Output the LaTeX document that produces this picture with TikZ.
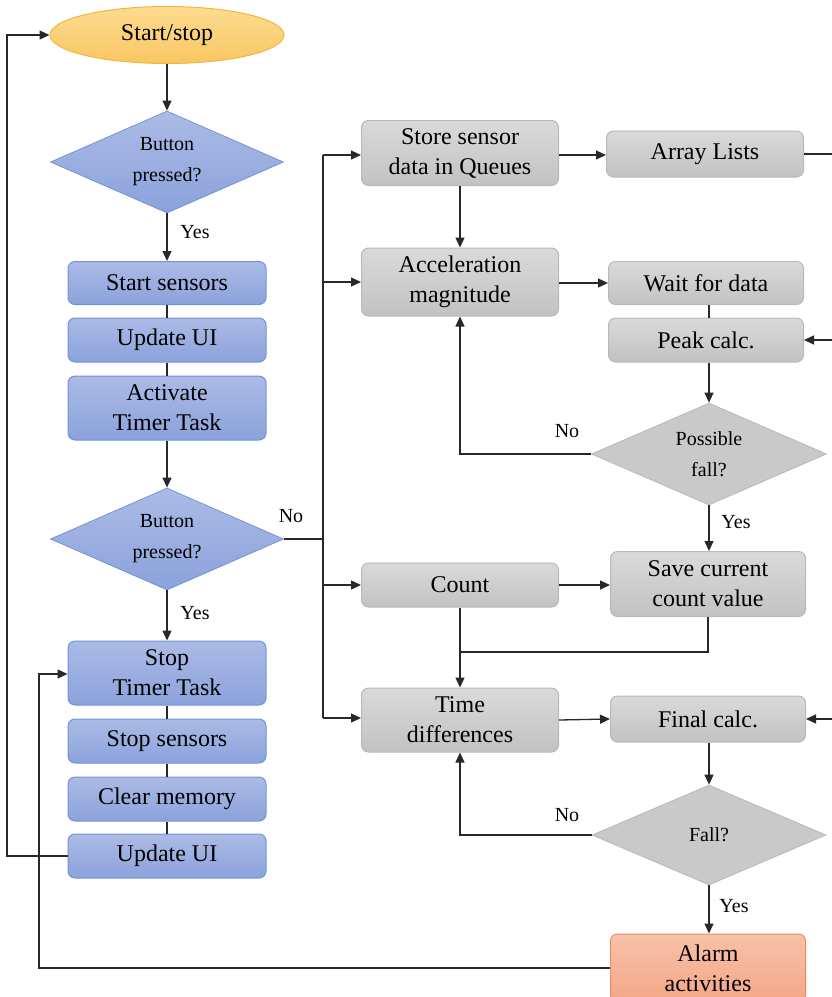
\documentclass[tikz,border=0pt]{standalone}
\usepackage{fontspec}
\setmainfont{Liberation Serif}
\usetikzlibrary{shapes.geometric,arrows.meta}
\definecolor{ln}{RGB}{40,40,40}
\definecolor{bluetop}{RGB}{172,187,230}
\definecolor{bluebot}{RGB}{138,162,219}
\definecolor{blueline}{RGB}{115,147,216}
\definecolor{graytop}{RGB}{218,218,218}
\definecolor{graybot}{RGB}{194,194,194}
\definecolor{grayline}{RGB}{185,185,185}
\definecolor{orgtop}{RGB}{252,220,145}
\definecolor{orgbot}{RGB}{249,198,98}
\definecolor{orgline}{RGB}{242,182,62}
\definecolor{alarmtop}{RGB}{248,194,170}
\definecolor{alarmbot}{RGB}{243,166,135}
\definecolor{alarmline}{RGB}{236,138,94}
\tikzset{
  x=1pt,y=-1pt,
  boxtext/.style={font=\fontsize{24}{30}\selectfont, align=center, inner sep=0pt},
  bluebox/.style={boxtext, rectangle, rounded corners=7pt, draw=blueline, line width=1pt, top color=bluetop, bottom color=bluebot, minimum width=198pt},
  graybox/.style={boxtext, rectangle, rounded corners=7pt, draw=grayline, line width=1pt, top color=graytop, bottom color=graybot, minimum width=197pt},
  bdiam/.style={diamond, aspect=2.3, inner sep=0pt, draw=blueline, line width=0.8pt, top color=bluetop, bottom color=bluebot, minimum width=233pt, minimum height=102pt, font=\fontsize{20}{31}\selectfont, align=center},
  gdiam/.style={diamond, aspect=2.3, inner sep=0pt, draw=grayline, line width=0.8pt, fill={rgb,255:red,201;green,201;blue,201}, minimum width=235pt, minimum height=102pt, font=\fontsize{20}{31}\selectfont, align=center},
  lbl/.style={font=\fontsize{20}{24}\selectfont, inner sep=0pt},
  conn/.style={draw=ln, line width=1.3pt},
  arr/.style={conn, -{Triangle[length=10pt,width=9pt]}},
}
\begin{document}
\begin{tikzpicture}
\useasboundingbox (0,0) rectangle (832,997);
% left column
\node[ellipse, draw=orgline, line width=1pt, top color=orgtop, bottom color=orgbot, minimum width=234pt, minimum height=57pt, inner sep=0pt, font=\fontsize{24}{30}\selectfont] (start) at (167,35) {Start/stop};
\node[bdiam] (bp1) at (167,162) {Button\\pressed?};
\node[bluebox, minimum height=43pt] (ss) at (167,283) {Start sensors};
\node[bluebox, minimum height=44pt] (ui1) at (167,340) {Update UI};
\node[bluebox, minimum height=64pt] (att) at (167,408) {Activate\\Timer Task};
\node[bdiam] (bp2) at (167,539) {Button\\pressed?};
\node[bluebox, minimum height=64pt] (stt) at (167,673) {Stop\\Timer Task};
\node[bluebox, minimum height=44pt] (sts) at (167,741) {Stop sensors};
\node[bluebox, minimum height=44pt] (cm) at (167,799) {Clear memory};
\node[bluebox, minimum height=44pt] (ui2) at (167,856) {Update UI};
% right column
\node[graybox, minimum height=65pt] (store) at (460,153) {Store sensor\\data in Queues};
\node[graybox, minimum height=46pt] (arr) at (705,154) {Array Lists};
\node[graybox, minimum height=68pt] (acc) at (460,282) {Acceleration\\magnitude};
\node[graybox, minimum height=43pt, minimum width=195pt] (wait) at (706,283) {Wait for data};
\node[graybox, minimum height=44pt, minimum width=195pt] (peak) at (706,340) {Peak calc.};
\node[gdiam] (pf) at (709,454) {Possible\\fall?};
\node[graybox, minimum height=44pt] (count) at (460,585) {Count};
\node[graybox, minimum height=65pt, minimum width=195pt] (save) at (708,584) {Save current\\count value};
\node[graybox, minimum height=64pt] (td) at (460,720) {Time\\differences};
\node[graybox, minimum height=46pt, minimum width=195pt] (fc) at (708,719) {Final calc.};
\node[gdiam, minimum width=234pt, minimum height=100pt] (fall) at (709,835) {Fall?};
\node[boxtext, rectangle, rounded corners=7pt, draw=alarmline, line width=1pt, top color=alarmtop, bottom color=alarmbot, minimum width=195pt, minimum height=68pt] (alarm) at (708,968) {Alarm\\activities};
% labels
\node[lbl] (y1) at (195,232) {Yes};
\node[lbl] (n1) at (291,516) {No};
\node[lbl] (y2) at (195,613) {Yes};
\node[lbl] (n2) at (567,431) {No};
\node[lbl] (y3) at (736,522) {Yes};
\node[lbl] (n3) at (567,815) {No};
\node[lbl] (y4) at (734,906) {Yes};
% coordinates
\coordinate (busT) at (323,155);
\coordinate (busJ) at (323,539);
\coordinate (busB) at (323,718);
\coordinate (eA) at (832,154);
\coordinate (eP) at (832,340);
\coordinate (eF) at (832,719);
% left column connectors
\draw[arr] (start) -- (bp1);
\draw[arr] (bp1) -- (ss);
\draw[conn] (ss) -- (ui1);
\draw[conn] (ui1) -- (att);
\draw[arr] (att) -- (bp2);
\draw[arr] (bp2) -- (stt);
\draw[conn] (stt) -- (sts);
\draw[conn] (sts) -- (cm);
\draw[conn] (cm) -- (ui2);
\draw[arr] (ui2.west) -- (7,856) -- (7,35) -- (start.west);
\draw[arr] (alarm.west) -- (39,968) -- (39,674) -- (stt.west |- 0,674);
% bus
\draw[conn] (bp2.east) -- (busJ);
\draw[conn] (busT) -- (busB);
\draw[arr] (busT) -- (store.west |- busT);
\draw[arr] (323,282) -- (acc.west);
\draw[arr] (323,585) -- (count.west);
\draw[arr] (busB) -- (td.west |- busB);
% right column connectors
\draw[arr] (store.east |- busT) -- (arr.west |- busT);
\draw[conn] (arr.east) -- (eA);
\draw[arr] (store) -- (acc);
\draw[arr] (acc.east |- wait) -- (wait.west);
\draw[conn] (wait.south -| 709,0) -- (peak.north -| 709,0);
\draw[arr] (eP) -- (peak.east);
\draw[arr] (peak.south -| pf) -- (pf.north);
\draw[arr] (pf.west) -- (460,454) -- (acc.south);
\draw[arr] (pf.south) -- (save.north -| pf);
\draw[arr] (count.east) -- (save.west |- count);
\draw[arr] (count.south) -- (td.north);
\draw[conn] (save.south) -- (708,652) -- (460,652);
\draw[arr] (td.east) -- (fc.west);
\draw[arr] (eF) -- (fc.east);
\draw[arr] (fc.south -| fall) -- (fall.north);
\draw[arr] (fall.west) -- (460,835) -- (td.south);
\draw[arr] (fall.south) -- (alarm.north -| fall);
\end{tikzpicture}
\end{document}
